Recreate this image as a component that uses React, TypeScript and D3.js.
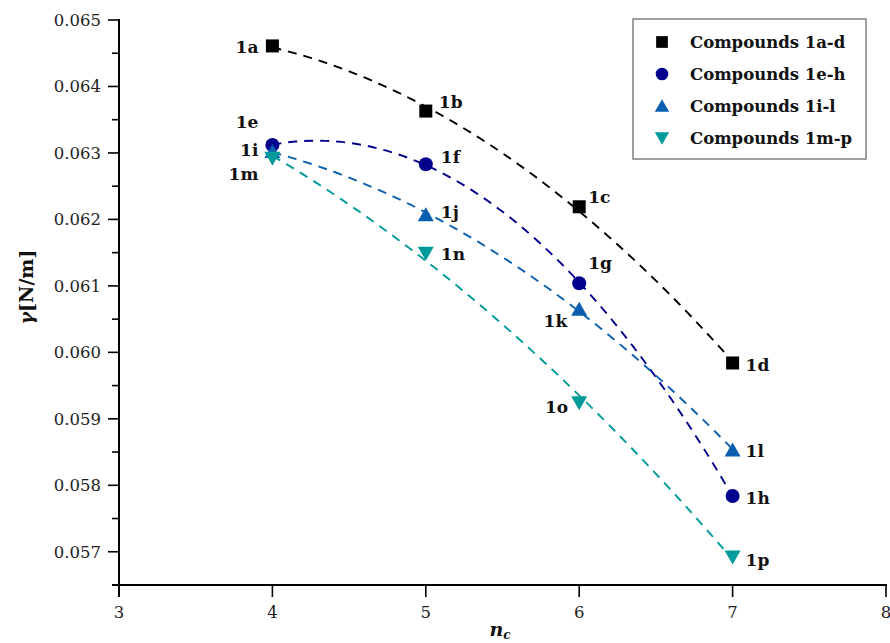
import React from "react";
import * as d3 from "d3";

const W = 890;
const H = 643;

// x: number of carbon atoms n_c
const nc = [4, 5, 6, 7];
// surface tension gamma [N/m]
const gammaAD = [0.06461, 0.06363, 0.06219, 0.05984];
const gammaEH = [0.06312, 0.06283, 0.06104, 0.05784];
const gammaIL = [0.06302, 0.06207, 0.06065, 0.05853];
const gammaMP = [0.06292, 0.06149, 0.05924, 0.05692];

const labelsAD = ["1a", "1b", "1c", "1d"];
const labelsEH = ["1e", "1f", "1g", "1h"];
const labelsIL = ["1i", "1j", "1k", "1l"];
const labelsMP = ["1m", "1n", "1o", "1p"];

const legendNames = ["Compounds 1a-d", "Compounds 1e-h", "Compounds 1i-l", "Compounds 1m-p"];

const xTicks = [3, 4, 5, 6, 7, 8];
const yTicks = [0.057, 0.058, 0.059, 0.06, 0.061, 0.062, 0.063, 0.064, 0.065];
const yTickLabels = ["0.057", "0.058", "0.059", "0.060", "0.061", "0.062", "0.063", "0.064", "0.065"];
const yMinor = [0.0565, 0.0575, 0.0585, 0.0595, 0.0605, 0.0615, 0.0625, 0.0635, 0.0645];

const colors = ["#000000", "#00008c", "#0a5fae", "#009a9a"];
const shapes = ["square", "circle", "up", "down"];

// label placement (dx, dy, anchor) per point
const labelPlace: [number, number, string][][] = [
  [[-14, 7, "end"], [13, -3, "start"], [9, -4, "start"], [13, 8, "start"]],
  [[-14, -17, "end"], [15, -1, "start"], [9, -14, "start"], [13, 8, "start"]],
  [[-14, 4, "end"], [15, 3, "start"], [-12, 18, "end"], [13, 7, "start"]],
  [[-14, 22, "end"], [15, 7, "start"], [-11, 10, "end"], [13, 9, "start"]],
];

const series = [gammaAD, gammaEH, gammaIL, gammaMP];
const seriesLabels = [labelsAD, labelsEH, labelsIL, labelsMP];

const margin = { left: 119, right: 886, top: 20, bottom: 585 };

const x = d3.scaleLinear().domain([3, 8]).range([margin.left, margin.right]);
const y = d3.scaleLinear().domain([0.0565, 0.065]).range([margin.bottom, margin.top]);

// least squares quadratic fit
function quadFit(xs: number[], ys: number[]) {
  const n = xs.length;
  let s = [0, 0, 0, 0, 0];
  let t = [0, 0, 0];
  for (let i = 0; i < n; i++) {
    const xi = xs[i];
    for (let k = 0; k < 5; k++) s[k] += Math.pow(xi, k);
    for (let k = 0; k < 3; k++) t[k] += ys[i] * Math.pow(xi, k);
  }
  const A = [
    [s[0], s[1], s[2], t[0]],
    [s[1], s[2], s[3], t[1]],
    [s[2], s[3], s[4], t[2]],
  ];
  for (let i = 0; i < 3; i++) {
    for (let j = i + 1; j < 3; j++) {
      const f = A[j][i] / A[i][i];
      for (let k = i; k < 4; k++) A[j][k] -= f * A[i][k];
    }
  }
  const c = [0, 0, 0];
  for (let i = 2; i >= 0; i--) {
    let v = A[i][3];
    for (let k = i + 1; k < 3; k++) v -= A[i][k] * c[k];
    c[i] = v / A[i][i];
  }
  return (xv: number) => c[0] + c[1] * xv + c[2] * xv * xv;
}

function marker(shape: string, cx: number, cy: number, color: string, key: string, s = 1) {
  if (shape === "square") {
    return <rect key={key} x={cx - 6.5 * s} y={cy - 6.5 * s} width={13 * s} height={13 * s} fill={color} />;
  }
  if (shape === "circle") {
    return <circle key={key} cx={cx} cy={cy} r={7 * s} fill={color} />;
  }
  if (shape === "up") {
    const p = `M${cx},${cy - 7.5 * s}L${cx + 8 * s},${cy + 6.5 * s}L${cx - 8 * s},${cy + 6.5 * s}Z`;
    return <path key={key} d={p} fill={color} />;
  }
  const p = `M${cx},${cy + 7.5 * s}L${cx + 8 * s},${cy - 6.5 * s}L${cx - 8 * s},${cy - 6.5 * s}Z`;
  return <path key={key} d={p} fill={color} />;
}

const serif = "'DejaVu Serif', 'Liberation Serif', serif";

export default function App() {
  const line = d3
    .line<[number, number]>()
    .x((d) => x(d[0]))
    .y((d) => y(d[1]));

  const curves = series.map((ys) => {
    const f = quadFit(nc, ys);
    const pts: [number, number][] = d3.range(0, 61).map((i) => {
      const xv = nc[0] + ((nc[nc.length - 1] - nc[0]) * i) / 60;
      return [xv, f(xv)];
    });
    return line(pts) || "";
  });

  return (
    <svg width={W} height={H} style={{ position: "absolute", left: 0, top: 0 }}>
      <rect x={0} y={0} width={W} height={H} fill="#fff" />
      {/* fitted dashed curves */}
      {curves.map((d, i) => (
        <path key={"c" + i} d={d} fill="none" stroke={colors[i]} strokeWidth={1.9} strokeDasharray="9,7" />
      ))}
      {/* markers */}
      {series.map((ys, si) =>
        ys.map((v, i) => marker(shapes[si], x(nc[i]), y(v), colors[si], `m${si}-${i}`))
      )}
      {/* point labels */}
      {series.map((ys, si) =>
        ys.map((v, i) => {
          const [dx, dy, anchor] = labelPlace[si][i];
          return (
            <text
              key={`l${si}-${i}`}
              x={x(nc[i]) + dx}
              y={y(v) + dy}
              textAnchor={anchor as any}
              fontFamily={serif}
              fontWeight="bold"
              fontSize={17}
              fill="#111"
            >
              {seriesLabels[si][i]}
            </text>
          );
        })
      )}
      {/* axes */}
      <line x1={margin.left} x2={margin.left} y1={margin.top - 1} y2={margin.bottom + 12} stroke="#000" strokeWidth={2} />
      <line x1={margin.left - 7} x2={margin.right + 1} y1={margin.bottom} y2={margin.bottom} stroke="#000" strokeWidth={2} />
      {yTicks.map((t, i) => (
        <g key={"yt" + i}>
          <line x1={margin.left - 11} x2={margin.left} y1={y(t)} y2={y(t)} stroke="#000" strokeWidth={1.6} />
          <text
            x={margin.left - 18}
            y={y(t)}
            dy="0.36em"
            textAnchor="end"
            fontFamily={serif}
            fontSize={16.5}
            fill="#222"
          >
            {yTickLabels[i]}
          </text>
        </g>
      ))}
      {yMinor.map((t, i) => (
        <line key={"ym" + i} x1={margin.left - 7} x2={margin.left} y1={y(t)} y2={y(t)} stroke="#000" strokeWidth={1.6} />
      ))}
      {xTicks.map((t, i) => (
        <g key={"xt" + i}>
          <line x1={x(t)} x2={x(t)} y1={margin.bottom} y2={margin.bottom + 12} stroke="#000" strokeWidth={1.6} />
          <text x={x(t)} y={margin.bottom + 33} textAnchor="middle" fontFamily={serif} fontSize={16.5} fill="#222">
            {t}
          </text>
        </g>
      ))}
      {/* axis titles */}
      <text
        transform={`translate(33,${287}) rotate(-90)`}
        textAnchor="middle"
        fontFamily={serif}
        fontWeight="bold"
        fontSize={19}
        fill="#111"
      >
        <tspan fontStyle="italic">γ</tspan>[N/m]
      </text>
      <text x={500} y={636} textAnchor="middle" fontFamily={serif} fontWeight="bold" fontStyle="italic" fontSize={19} fill="#111">
        n<tspan fontSize={12} dy={3}>c</tspan>
      </text>
      {/* legend */}
      <rect x={633} y={19} width={233} height={140} fill="#fff" stroke="#808080" strokeWidth={1.5} />
      {legendNames.map((name, i) => {
        const ly = 42 + i * 32;
        return (
          <g key={"lg" + i}>
            {marker(shapes[i], 662, ly, colors[i], "lgm" + i, 0.9)}
            <text x={690} y={ly} dy="0.36em" fontFamily={serif} fontWeight="bold" fontSize={16.5} fill="#111">
              {name}
            </text>
          </g>
        );
      })}
    </svg>
  );
}
